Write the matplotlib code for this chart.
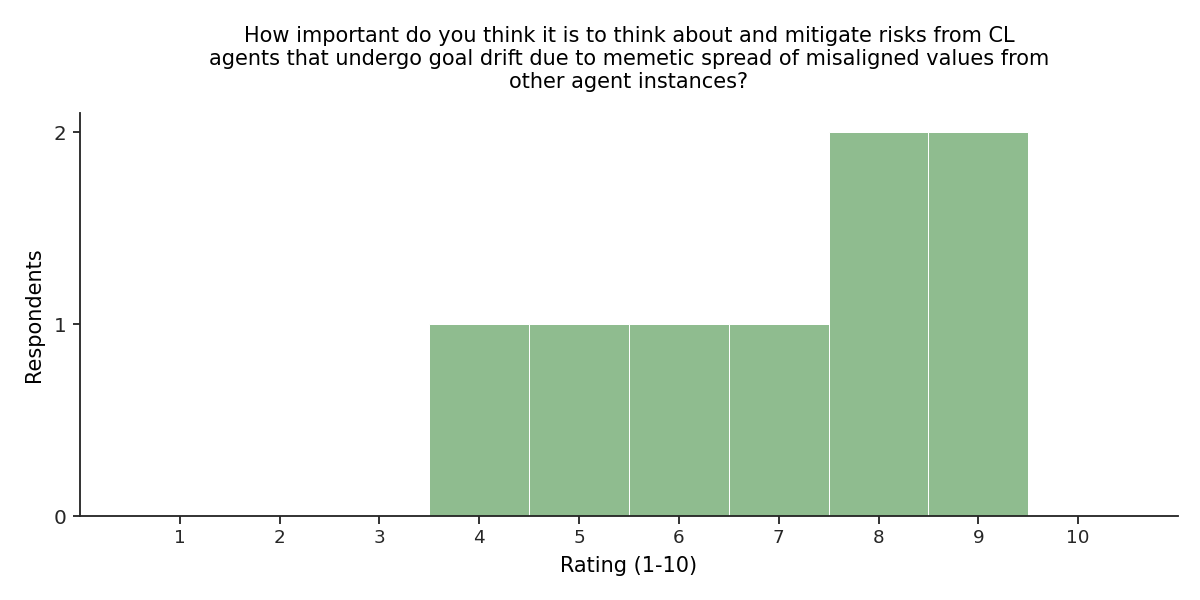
import matplotlib
matplotlib.use("Agg")
import matplotlib.pyplot as plt

ratings = [1, 2, 3, 4, 5, 6, 7, 8, 9, 10]
counts = [0, 0, 0, 1, 1, 1, 1, 2, 2, 0]
title = ("How important do you think it is to think about and mitigate risks from CL\n"
         "agents that undergo goal drift due to memetic spread of misaligned values from\n"
         "other agent instances?")

fig = plt.figure(figsize=(10, 5), dpi=120)
ax = fig.add_axes([80/1200, 1-516/600, (1178-80)/1200, (516-113)/600])
ax.bar(ratings, counts, width=1.0, color="#8fbc8f", edgecolor="white", linewidth=0.6)
ax.set_xlim(0, 11)
ax.set_ylim(0, 2.1)
ax.set_xticks(ratings)
ax.set_xticklabels([str(r) for r in ratings], fontsize=11)
ax.set_yticks([0, 1, 2])
ax.tick_params(axis="y", labelsize=12)
for s in ["top", "right"]:
    ax.spines[s].set_visible(False)
for s in ["left", "bottom"]:
    ax.spines[s].set_color("#262626")
    ax.spines[s].set_linewidth(1.1)
ax.tick_params(colors="#262626", width=1.1, length=4.5)
ax.set_xlabel("Rating (1-10)", fontsize=12.5, labelpad=5)
ax.set_ylabel("Respondents", fontsize=12.5, labelpad=6)
ax.set_title(title, fontsize=12.5, pad=15)
fig.savefig("out.png", dpi=120)
